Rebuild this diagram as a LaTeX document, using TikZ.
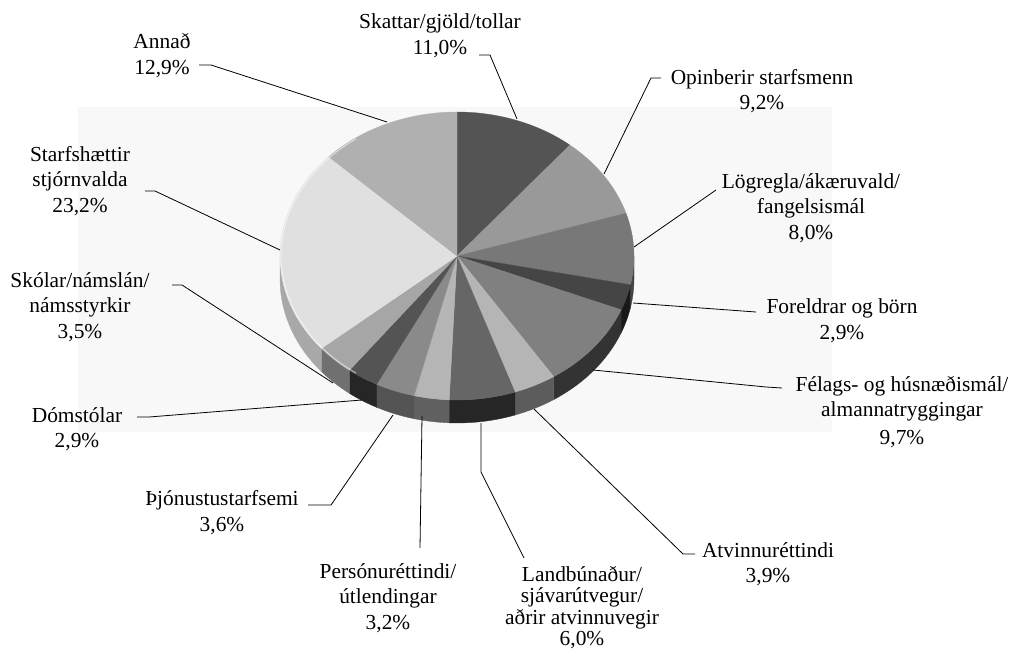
\documentclass[tikz,border=0pt]{standalone}
\usepackage{fontspec}
\setmainfont{Liberation Serif}
\usetikzlibrary{calc}
\definecolor{bgc}{RGB}{248,248,248}
\begin{document}
\begin{tikzpicture}[x=1pt,y=-1pt,
  lab/.style={font=\fontsize{21.4}{25.5}\selectfont, align=center, inner sep=0pt},
  lead/.style={draw=black, line width=0.8pt}]
\useasboundingbox (0,0) rectangle (1016,652);
\fill[white] (0,0) rectangle (1016,652);
\fill[bgc] (78,107) rectangle (832,432);
\coordinate (C) at (457,256);
\coordinate (CB) at (457,279);
% side of the pie
\foreach \a/\b/\s in {0/11.52/0.27, 11.52/21.96/0.10, 21.96/56.88/0.20, 56.88/70.92/0.36, 70.92/92.52/0.15, 92.52/104.04/0.38, 104.04/117/0.33, 117/127.44/0.15, 127.44/140.04/0.44, 140.04/180/0.66}{
  \definecolor{tmp}{gray}{\s}
  \fill[tmp, draw=tmp, line width=0.3pt] ($(C)+(\a:177 and 144)$) arc[start angle=\a, end angle=\b, x radius=177, y radius=144] -- ($(CB)+(\b:177 and 144)$) arc[start angle=\b, end angle=\a, x radius=177, y radius=144] -- cycle;
}
% top face
\foreach \a/\b/\t in {-90/-50.4/0.33, -50.4/-17.28/0.60, -17.28/11.52/0.47, 11.52/21.96/0.27, 21.96/56.88/0.50, 56.88/70.92/0.71, 70.92/92.52/0.40, 92.52/104.04/0.71, 104.04/117/0.54, 117/127.44/0.33, 127.44/140.04/0.65, 140.04/223.56/0.88, 223.56/270/0.69}{
  \definecolor{tmp}{gray}{\t}
  \fill[tmp, draw=tmp, line width=0.3pt] (C) -- ($(C)+(\a:177 and 144)$) arc[start angle=\a, end angle=\b, x radius=177, y radius=144] -- cycle;
}
\draw[white, opacity=0.5, line width=1.2pt] ($(C)+(125:176 and 143)$) arc[start angle=125, end angle=235, x radius=176, y radius=143];

% labels
\node[lab] (skat) at (440,35.5) {Skattar/gjöld/tollar\\11,0\%};
\node[lab] (annad) at (162,55.5) {Annað\\12,9\%};
\node[lab] (opin) at (762,91) {Opinberir starfsmenn\\9,2\%};
\node[lab] (log) at (811,208) {Lögregla/ákæruvald/\\fangelsismál\\8,0\%};
\node[lab] (fore) at (842,320.5) {Foreldrar og börn\\2,9\%};
\node[lab] (fel) at (902,412) {Félags- og húsnæðismál/\\almannatryggingar\\[2pt]9,7\%};
\node[lab] (atv) at (768,564) {Atvinnuréttindi\\3,9\%};
\node[lab] (land) at (582,607.5) {Landbúnaður/\\[-4pt]sjávarútvegur/\\[-4pt]aðrir atvinnuvegir\\[-4pt]6,0\%};
\node[lab] (pers) at (388,598) {Persónuréttindi/\\útlendingar\\3,2\%};
\node[lab] (thjon) at (222,512.5) {Þjónustustarfsemi\\3,6\%};
\node[lab] (doms) at (77,429) {Dómstólar\\2,9\%};
\node[lab] (skol) at (80,307) {Skólar/námslán/\\námsstyrkir\\3,5\%};
\node[lab] (starf) at (80,181) {Starfshættir\\stjórnvalda\\23,2\%};

% leader coordinates
\coordinate (skat1) at (479,55); \coordinate (skat2) at (490,55); \coordinate (skatP) at (517,119);
\coordinate (ann1) at (199,65); \coordinate (ann2) at (211,65); \coordinate (annP) at (387,122);
\coordinate (opi1) at (661,78); \coordinate (opi2) at (651,78); \coordinate (opiP) at (604,174);
\coordinate (log1) at (716,190); \coordinate (logP) at (634,247);
\coordinate (for1) at (756,312); \coordinate (forP) at (633,303);
\coordinate (fel1) at (782,388); \coordinate (fel2) at (766,387); \coordinate (felP) at (593,370);
\coordinate (atv1) at (695,554); \coordinate (atv2) at (683,554); \coordinate (atvP) at (534,409);
\coordinate (lan1) at (524,558); \coordinate (lan2) at (481,472); \coordinate (lanP) at (481,423);
\coordinate (per1) at (420,548); \coordinate (perP) at (422,416);
\coordinate (thj1) at (308,505); \coordinate (thj2) at (331,505); \coordinate (thjP) at (393,415);
\coordinate (dom1) at (137,417); \coordinate (dom2) at (149,417); \coordinate (domP) at (362,400);
\coordinate (sko1) at (172,285); \coordinate (sko2) at (182,285); \coordinate (skoP) at (333,383);
\coordinate (sta1) at (145,191); \coordinate (sta2) at (155,191); \coordinate (staP) at (280,250);

\draw[lead] (skat1) -- (skat2) -- (skatP);
\draw[lead] (ann1) -- (ann2) -- (annP);
\draw[lead] (opi1) -- (opi2) -- (opiP);
\draw[lead] (log1) -- (logP);
\draw[lead] (for1) -- (forP);
\draw[lead] (fel1) -- (fel2) -- (felP);
\draw[lead] (atv1) -- (atv2) -- (atvP);
\draw[lead] (lan1) -- (lan2) -- (lanP);
\draw[lead] (per1) -- (perP);
\draw[lead] (thj1) -- (thj2) -- (thjP);
\draw[lead] (dom1) -- (dom2) -- (domP);
\draw[lead] (sko1) -- (sko2) -- (skoP);
\draw[lead] (sta1) -- (sta2) -- (staP);
\end{tikzpicture}
\end{document}
